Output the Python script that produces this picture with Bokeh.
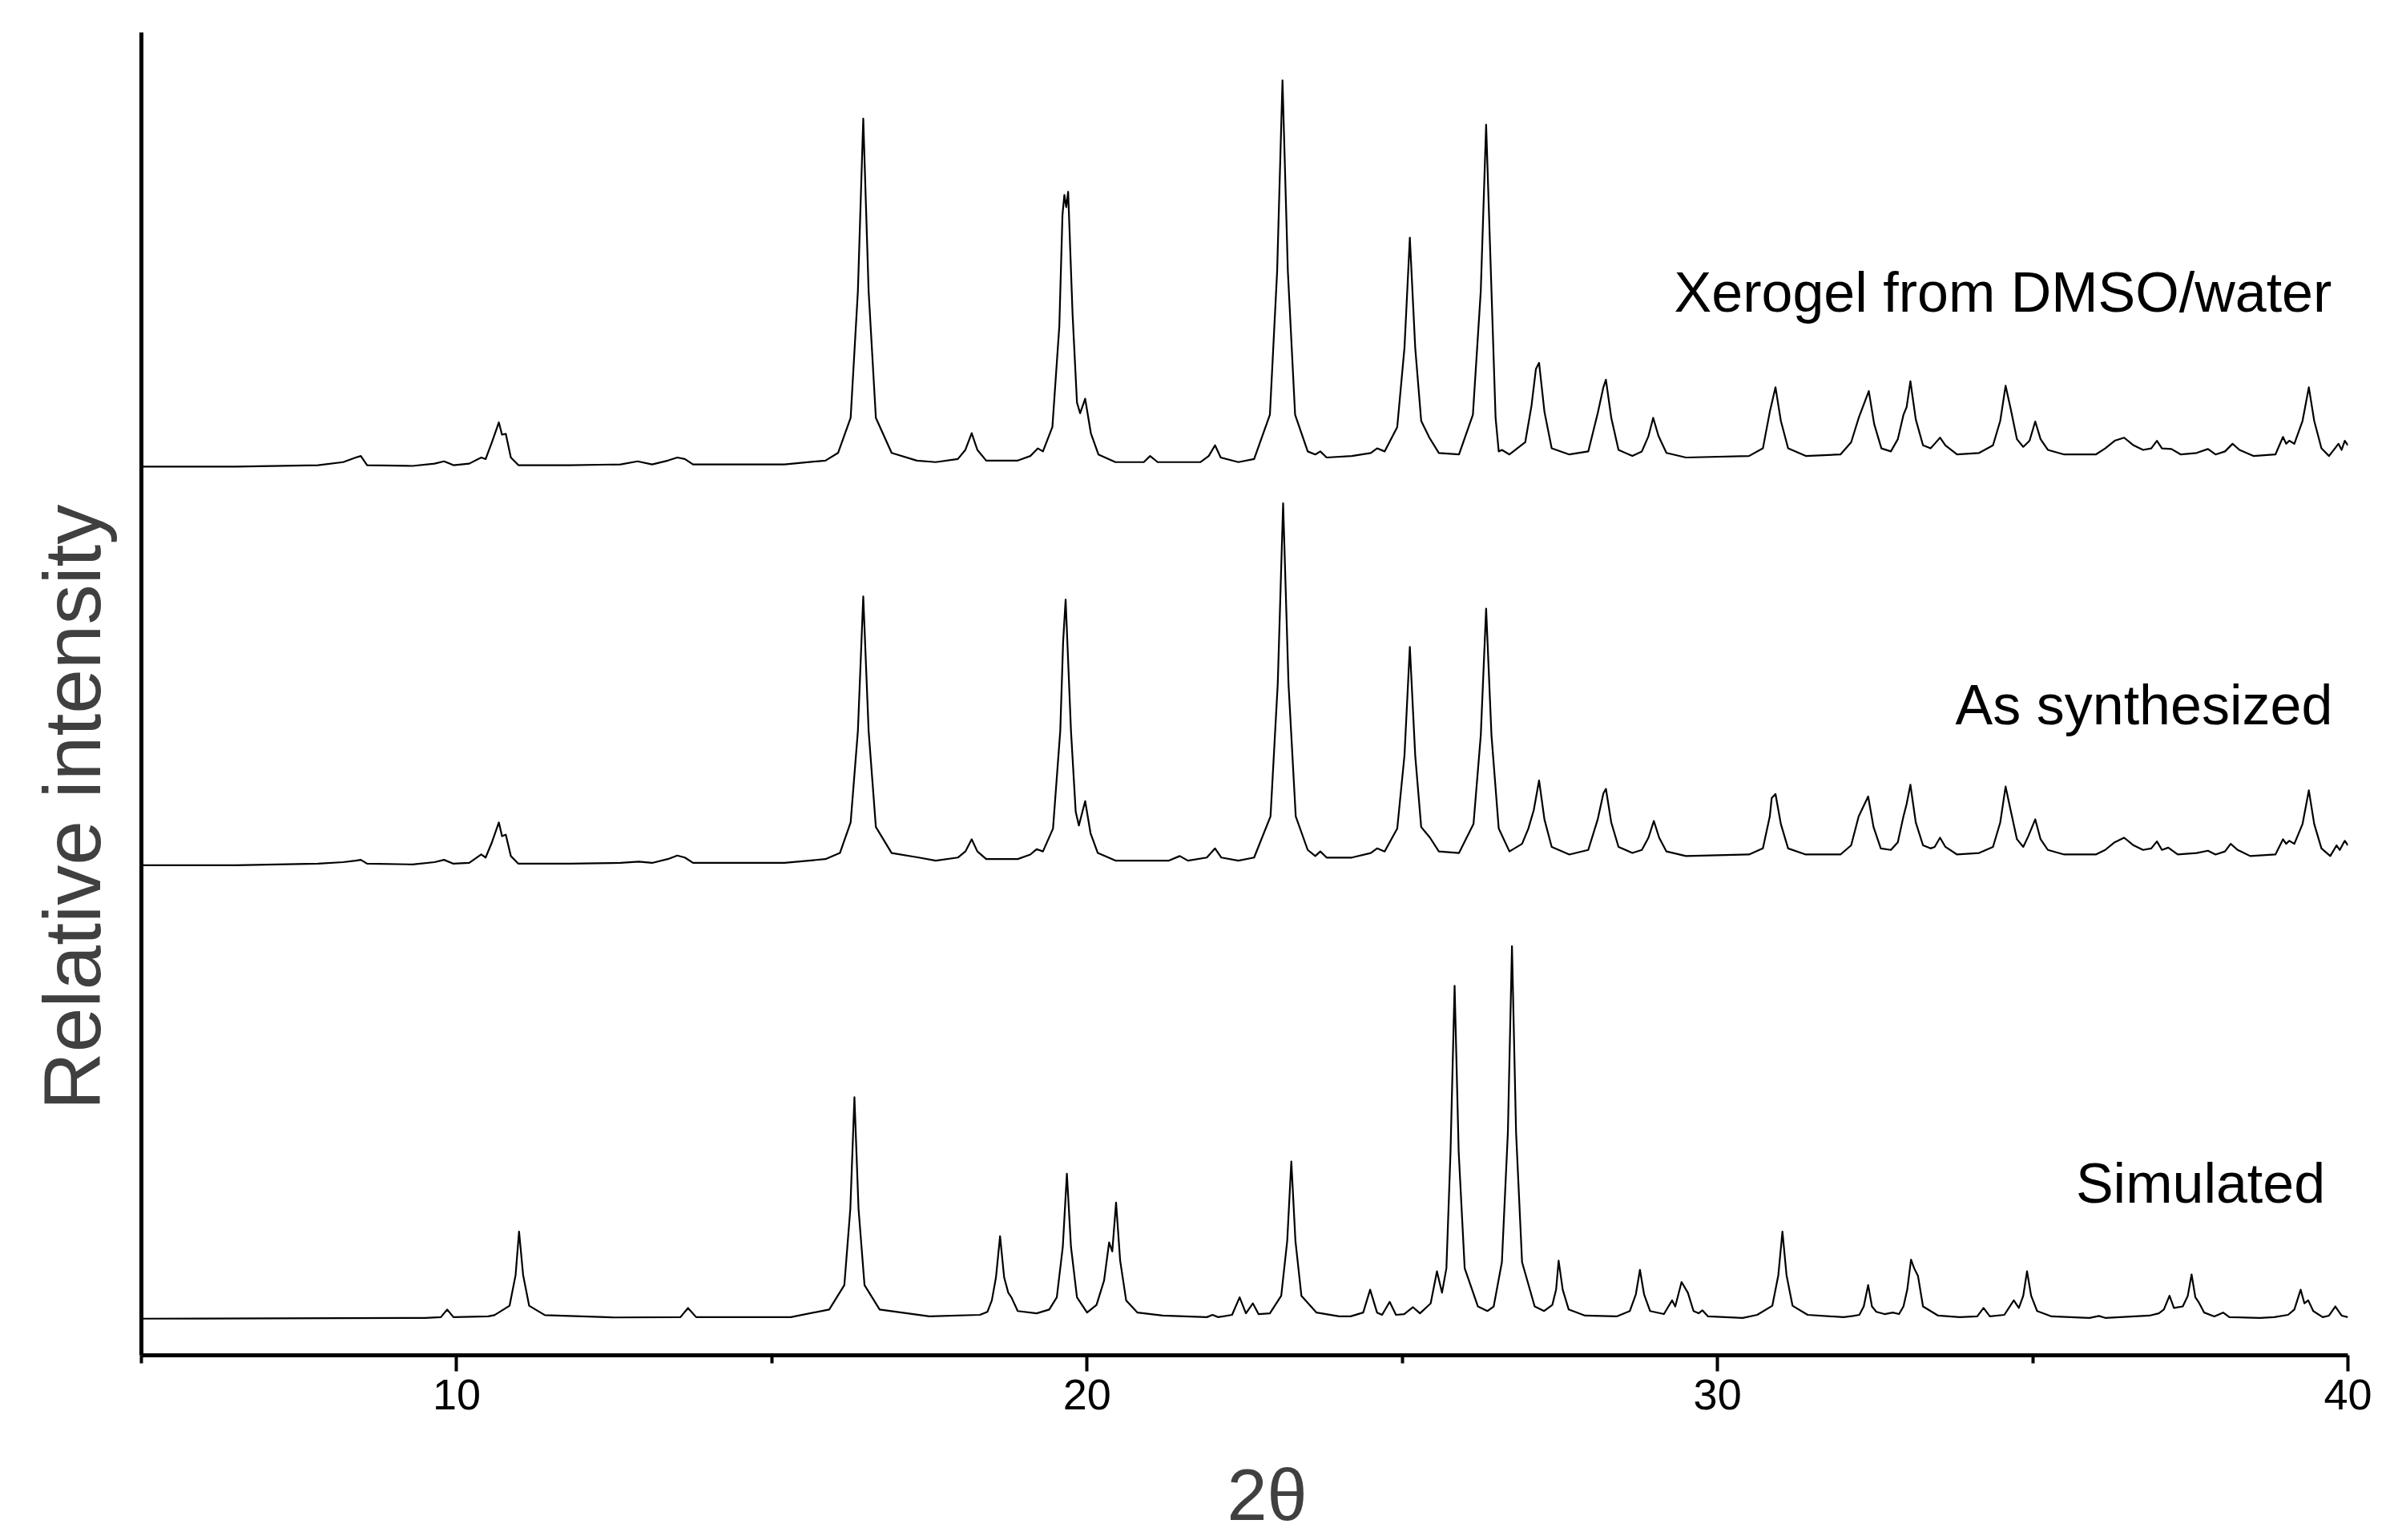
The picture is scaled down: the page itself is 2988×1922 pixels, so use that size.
from bokeh.plotting import figure
from bokeh.models import Range1d, FixedTicker, Title, ColumnDataSource
from bokeh.embed import file_html
from bokeh.resources import INLINE
from bokeh.core.properties import value

# ---- data: (2theta, relative intensity above each trace's own baseline)
SIMULATED = [
    (5.0, 0), (9.5, 0.5), (9.75, 1), (9.85, 6), (9.95, 1), (10.5, 1.5),
    (10.6, 2.3), (10.84, 8.5), (10.935, 28.5), (10.99, 57), (11.055, 28.5), (11.15, 8.5), (11.4, 2.3),
    (12.5, 0.8), (13.55, 1), (13.67, 7), (13.8, 1), (15.3, 1),
    (15.91, 6), (16.15, 22), (16.245, 72), (16.31, 145), (16.375, 72), (16.47, 22), (16.71, 6), (17.5, 1.5),
    (18.3, 2.5), (18.42, 4.5), (18.49, 12), (18.555, 27), (18.62, 54), (18.685, 27), (18.75, 17), (18.8, 14),
    (18.9, 5), (19.2, 3.5),
    (19.4, 6), (19.52, 14), (19.615, 47), (19.68, 95), (19.745, 47), (19.84, 14), (20.0, 4),
    (20.15, 9), (20.27, 25), (20.35, 50), (20.4, 44), (20.46, 76), (20.525, 38), (20.62, 12), (20.8, 4), (21.2, 2),
    (21.9, 1), (21.99, 2.5), (22.08, 1), (22.3, 2.5), (22.42, 14), (22.52, 3.5), (22.63, 10), (22.72, 3), (22.9, 3.5),
    (23.08, 15), (23.175, 51), (23.24, 103), (23.305, 51), (23.4, 15), (23.64, 4), (24.0, 1.5), (24.18, 1.5),
    (24.38, 4), (24.49, 19), (24.6, 4), (24.68, 2.5), (24.8, 11), (24.9, 2.5), (25.03, 3), (25.17, 7.5), (25.28, 3.5),
    (25.45, 10), (25.55, 31), (25.63, 17), (25.7, 33), (25.765, 109), (25.83, 218), (25.895, 109), (25.99, 33),
    (26.2, 8), (26.35, 5),
    (26.45, 8), (26.58, 37), (26.675, 122), (26.74, 244), (26.805, 122), (26.9, 37), (27.1, 8), (27.25, 5),
    (27.38, 9), (27.44, 19), (27.48, 38), (27.545, 19), (27.64, 6), (27.9, 2), (28.4, 1.5),
    (28.61, 5), (28.705, 16), (28.77, 32), (28.835, 16), (28.93, 5), (29.15, 3), (29.28, 12), (29.33, 8),
    (29.43, 24), (29.53, 17), (29.62, 5), (29.7, 3.5), (29.76, 5.5), (29.85, 1.5), (30.4, 0.5),
    (30.63, 2.5), (30.87, 8.5), (30.965, 28.5), (31.03, 57), (31.095, 28.5), (31.19, 8.5), (31.43, 2.5), (32.0, 1),
    (32.15, 1.8), (32.25, 2.5), (32.32, 8), (32.39, 22), (32.45, 8), (32.52, 4.5), (32.65, 3), (32.78, 4), (32.88, 3),
    (32.95, 8), (33.01, 19), (33.07, 38.6), (33.12, 33), (33.18, 28), (33.26, 8), (33.5, 2), (33.84, 1),
    (34.12, 1.5), (34.22, 7), (34.32, 1.5), (34.55, 2.5), (34.7, 12), (34.78, 7), (34.85, 15), (34.91, 31),
    (34.975, 15), (35.07, 5), (35.3, 1.5), (35.9, 0.5),
    (36.05, 1.8), (36.15, 0.5), (36.85, 2), (37.0, 3.5), (37.08, 6), (37.17, 15), (37.24, 7), (37.38, 8),
    (37.46, 15), (37.52, 29), (37.58, 14), (37.63, 11), (37.72, 4), (37.88, 1.5),
    (38.02, 4), (38.12, 1), (38.6, 0.5), (38.83, 1), (39.05, 2.5), (39.15, 6), (39.25, 19), (39.31, 10),
    (39.37, 12), (39.45, 5), (39.6, 1), (39.7, 2), (39.8, 8), (39.9, 2), (40.0, 1),
]

AS_SYNTHESIZED = [
    (5.0, 0), (6.5, 0), (7.8, 1), (8.2, 2), (8.4, 3), (8.48, 3.5), (8.58, 1), (9.3, 0.5), (9.65, 2), (9.8, 3.5),
    (9.95, 1), (10.2, 1.5), (10.39, 7), (10.46, 5), (10.56, 15), (10.67, 28), (10.72, 19), (10.78, 20),
    (10.86, 6), (10.98, 1), (11.8, 1), (12.6, 1.5), (12.89, 2.3), (13.1, 1.5), (13.35, 4), (13.5, 6.3),
    (13.62, 5), (13.75, 1.5), (15.2, 1.5), (15.85, 4), (16.08, 8), (16.25, 28), (16.365, 88), (16.45, 176),
    (16.535, 88), (16.65, 25), (16.9, 8), (17.33, 5), (17.6, 3), (17.95, 5), (18.07, 9), (18.17, 17),
    (18.26, 9), (18.4, 4), (18.9, 4), (19.1, 7), (19.2, 10.5), (19.3, 9), (19.46, 24), (19.575, 88),
    (19.62, 146), (19.66, 174), (19.745, 88), (19.82, 35), (19.87, 26), (19.97, 42), (20.055, 21), (20.17, 8),
    (20.45, 3), (21.3, 3), (21.47, 6), (21.6, 3), (21.9, 5), (22.03, 11), (22.13, 5), (22.4, 3), (22.65, 5),
    (22.91, 32), (23.025, 119), (23.11, 237), (23.195, 119), (23.31, 32), (23.5, 10), (23.62, 6), (23.7, 9),
    (23.8, 5), (24.2, 5), (24.5, 8), (24.6, 11), (24.72, 9), (24.92, 24), (25.035, 72), (25.12, 143),
    (25.205, 72), (25.3, 25), (25.44, 18), (25.58, 9), (25.9, 8), (26.13, 27), (26.245, 85), (26.33, 168),
    (26.415, 85), (26.53, 24), (26.7, 9), (26.9, 14), (27.0, 24), (27.085, 36), (27.17, 55.5), (27.255, 30),
    (27.37, 12), (27.65, 7), (27.95, 10), (28.1, 30), (28.19, 47), (28.23, 50), (28.315, 28), (28.43, 12),
    (28.65, 8), (28.8, 10), (28.905, 18), (28.99, 29), (29.075, 18), (29.19, 9), (29.5, 6), (30.5, 7),
    (30.72, 11), (30.83, 32), (30.86, 44), (30.92, 46.6), (31.005, 27), (31.12, 11), (31.4, 7), (31.95, 7),
    (32.12, 13), (32.24, 32), (32.39, 45), (32.475, 25), (32.59, 11), (32.75, 10), (32.86, 15), (32.95, 32),
    (33.0, 40), (33.06, 52.7), (33.145, 28), (33.26, 13), (33.38, 11), (33.445, 12), (33.53, 18), (33.615, 12),
    (33.8, 7), (34.15, 8), (34.37, 12), (34.485, 28), (34.57, 51.5), (34.65, 36), (34.75, 17), (34.85, 12),
    (34.93, 19), (35.04, 30), (35.125, 17), (35.24, 10), (35.5, 7), (36.0, 7), (36.15, 10), (36.3, 15),
    (36.45, 18), (36.6, 13), (36.75, 10), (36.88, 11), (36.97, 15.6), (37.05, 10), (37.15, 11.5), (37.3, 7),
    (37.6, 8), (37.78, 9.5), (37.9, 7), (38.05, 9), (38.14, 14), (38.25, 10), (38.45, 6), (38.85, 7),
    (38.97, 17), (39.02, 14), (39.07, 16), (39.15, 14), (39.28, 27), (39.38, 49), (39.465, 27), (39.58, 11),
    (39.72, 6), (39.82, 13), (39.87, 10), (39.95, 16), (40.0, 13),
]

XEROGEL = [
    (5.0, 0), (6.5, 0), (7.8, 1), (8.2, 3), (8.4, 6), (8.48, 7), (8.58, 1), (9.3, 0.5), (9.65, 2), (9.8, 3.5),
    (9.95, 1), (10.2, 2), (10.39, 6), (10.46, 5), (10.56, 16), (10.67, 29), (10.72, 21), (10.78, 21.5),
    (10.86, 6), (10.98, 1), (11.8, 1), (12.6, 1.5), (12.87, 3.5), (13.1, 1.5), (13.35, 4), (13.5, 6),
    (13.62, 5), (13.75, 1.5), (15.2, 1.5), (15.85, 4), (16.05, 9), (16.25, 32), (16.365, 115), (16.45, 228),
    (16.535, 115), (16.65, 32), (16.9, 9), (17.3, 4), (17.6, 3), (17.95, 5), (18.07, 11), (18.17, 22),
    (18.26, 11), (18.4, 4), (18.9, 4), (19.1, 7), (19.22, 12), (19.3, 10), (19.45, 26), (19.56, 92),
    (19.61, 165), (19.64, 178), (19.67, 170), (19.7, 180), (19.77, 100), (19.84, 42), (19.89, 35),
    (19.97, 44.5), (20.06, 22), (20.18, 8), (20.45, 3), (20.9, 3), (21.0, 7), (21.12, 3), (21.8, 3),
    (21.93, 7), (22.03, 14), (22.12, 6), (22.4, 3), (22.65, 5), (22.9, 34), (23.015, 128), (23.1, 253),
    (23.185, 128), (23.3, 34), (23.5, 10), (23.62, 8), (23.7, 10), (23.8, 6), (24.2, 7), (24.5, 9),
    (24.6, 12), (24.72, 10), (24.92, 26), (25.035, 78), (25.12, 150), (25.205, 78), (25.3, 30), (25.43, 19),
    (25.58, 9), (25.9, 8), (26.12, 34), (26.245, 115), (26.33, 224), (26.415, 115), (26.48, 32), (26.53, 10),
    (26.58, 11), (26.7, 8), (26.95, 16), (27.05, 40), (27.12, 64), (27.17, 68), (27.255, 36), (27.37, 12),
    (27.65, 8), (27.95, 10), (28.1, 35), (28.19, 52), (28.23, 57), (28.315, 32), (28.43, 11), (28.65, 7),
    (28.8, 10), (28.905, 20), (28.98, 32), (29.065, 20), (29.19, 9), (29.5, 6), (30.5, 7), (30.72, 12),
    (30.83, 36), (30.92, 52), (31.005, 30), (31.12, 12), (31.4, 7), (31.95, 8), (32.12, 16), (32.24, 32),
    (32.4, 49.5), (32.485, 28), (32.6, 12), (32.75, 10), (32.86, 18), (32.95, 34), (33.0, 39), (33.06, 56),
    (33.145, 31), (33.26, 14), (33.38, 12), (33.445, 15), (33.53, 19), (33.615, 14), (33.8, 8), (34.15, 9),
    (34.37, 14), (34.485, 30), (34.57, 53), (34.65, 38), (34.75, 18), (34.85, 13), (34.95, 17), (35.04, 29.6),
    (35.125, 18), (35.24, 11), (35.5, 8), (36.0, 8), (36.15, 12), (36.3, 17), (36.45, 19), (36.6, 14),
    (36.75, 11), (36.88, 12), (36.97, 17), (37.05, 12), (37.2, 11.6), (37.35, 8), (37.6, 9), (37.78, 11.6),
    (37.9, 8), (38.05, 10), (38.17, 15), (38.28, 11), (38.5, 7), (38.85, 8), (38.97, 19.5), (39.02, 15),
    (39.07, 17), (39.15, 15), (39.28, 30), (39.38, 52), (39.465, 30), (39.58, 12), (39.7, 7), (39.85, 15),
    (39.9, 11), (39.95, 17), (40.0, 14),
]

SERIES_NAMES = ["Simulated", "As synthesized", "Xerogel from DMSO/water"]
SERIES_OFFSETS = [24, 321, 582]          # vertical stacking of the traces
X_TICKS = [10, 20, 30, 40]
X_MINOR_TICKS = [5, 15, 25, 35]

FONT = "Liberation Sans"

p = figure(
    frame_width=2754, frame_height=1651,
    min_border_left=176, min_border_right=50, min_border_top=40, min_border_bottom=217,
    x_range=Range1d(5, 40), y_range=Range1d(0, 866.4),
    output_backend="svg", toolbar_location=None,
    background_fill_color="white", border_fill_color="white",
)
p.outline_line_color = None
p.grid.visible = False

for pts, off in zip([SIMULATED, AS_SYNTHESIZED, XEROGEL], SERIES_OFFSETS):
    xs = [a for a, b in pts]
    ys = [b + off for a, b in pts]
    p.line(xs, ys, line_color="black", line_width=2.2, line_join="round")

# series labels
lab = ColumnDataSource(dict(
    x=[39.64, 39.757, 39.744],
    y=[112.5, 426, 696],
    t=SERIES_NAMES,
))
p.text(x="x", y="y", text="t", source=lab, text_align="right", text_baseline="alphabetic",
       text_font=value(FONT), text_font_size="70px", text_color="black")

# x axis
xa = p.xaxis[0]
xa.ticker = FixedTicker(ticks=X_TICKS, minor_ticks=X_MINOR_TICKS)
xa.axis_line_width = 5
xa.axis_line_color = "black"
xa.major_tick_line_width = 4
xa.major_tick_in = 0
xa.major_tick_out = 20
xa.minor_tick_line_width = 4
xa.minor_tick_in = 0
xa.minor_tick_out = 10
xa.major_label_text_font = FONT
xa.major_label_text_font_size = "54px"
xa.major_label_text_color = "black"
xa.major_label_standoff = 10

# blank spacer panel below the x axis, then the x title (placed off-centre, as in the reference)
p.add_layout(Title(text=" ", standoff=8, text_font=FONT, text_font_size="40px",
                   text_color="white"), "below")
p.add_layout(Title(text="2θ", align="left", offset=1355, standoff=0, vertical_align="top",
                   text_font=FONT, text_font_size="90px", text_font_style="normal",
                   text_color="#404040"), "below")

# y axis: line only
ya = p.yaxis[0]
ya.ticker = FixedTicker(ticks=[])
ya.axis_line_width = 5
ya.axis_line_color = "black"
ya.major_tick_line_color = None
ya.minor_tick_line_color = None
ya.major_label_text_font_size = "0px"

p.add_layout(Title(text="Relative intensity", align="left", offset=306, standoff=62,
                   text_font=FONT, text_font_size="100px", text_font_style="normal",
                   text_color="#404040"), "left")

open("out.html", "w").write(file_html(p, INLINE))
